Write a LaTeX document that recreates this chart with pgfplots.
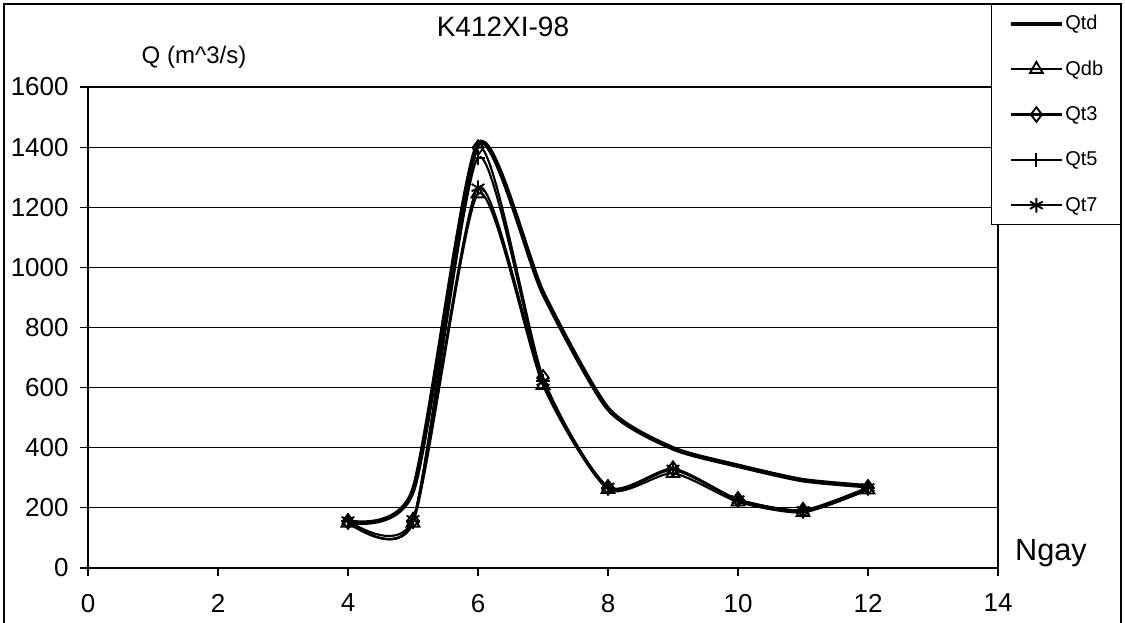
\documentclass[border=0pt]{standalone}
\usepackage{pgfplots}
\pgfplotsset{compat=1.18}
\usepackage{fontspec}
\setmainfont{Liberation Sans}
\begin{document}
\begin{tikzpicture}
\begin{axis}[
  at={(0,0)}, anchor=south west,
  scale only axis, width=682.5pt, height=360.75pt,
  xmin=0, xmax=14, ymin=0, ymax=1600,
  xtick={0,2,...,14}, ytick={0,200,...,1600},
  ymajorgrids, grid style={black, line width=0.8pt},
  axis line style={line width=2.2pt},
  tick align=outside, major tick length=6pt, tick style={black, line width=0.8pt},
  xtick pos=bottom, ytick pos=left,
  ticklabel style={font=\fontsize{19.5}{22}\selectfont},
  xticklabel style={yshift=-10pt},
  yticklabel style={xshift=-5pt},
  /pgf/number format/assume math mode=true,
  /pgf/number format/1000 sep={},
  clip=false,
  legend style={at={(rel axis cs:1.13516,1.17256)}, anchor=north east, draw=black, line width=0.8pt,
    font=\fontsize{15}{17}\selectfont, row sep=19pt, column sep=1pt, inner xsep=13pt, inner ysep=7pt,
    nodes={inner sep=0pt, anchor=west, text height=12pt, text depth=3pt}},
  legend cell align=left,
  legend image code/.code={\draw[mark repeat=2,mark phase=2,#1] plot coordinates {(0pt,0pt)(19pt,0pt)(38pt,0pt)};},
]
\addplot[black, line width=3.4pt, smooth, tension=0.4, no marks] coordinates {
(4,155) (5,258) (6,1410) (7,915) (8,530) (9,398) (10,340) (11,292) (12,272)};
\addlegendentry{Qtd}
\addplot[black, line width=1.6pt, smooth, tension=0.4, mark=triangle, mark size=5.5pt, mark options={solid, fill=white, line width=1.4pt}] coordinates {
(4,150) (5,150) (6,1245) (7,608) (8,262) (9,315) (10,220) (11,185) (12,260)};
\addlegendentry{Qdb}
\addplot[black, line width=1.6pt, smooth, tension=0.4, mark=diamond, mark size=5.5pt, mark options={solid, fill=white, line width=1.4pt}] coordinates {
(4,155) (5,158) (6,1398) (7,634) (8,268) (9,330) (10,228) (11,192) (12,268)};
\addlegendentry{Qt3}
\addplot[black, line width=1.6pt, smooth, tension=0.4, mark=+, mark size=5.5pt, mark options={solid, line width=1.4pt}] coordinates {
(4,155) (5,155) (6,1365) (7,622) (8,266) (9,326) (10,226) (11,190) (12,266)};
\addlegendentry{Qt5}
\addplot[black, line width=1.6pt, smooth, tension=0.4, mark=asterisk, mark size=5.5pt, mark options={solid, line width=1.4pt}] coordinates {
(4,158) (5,162) (6,1265) (7,620) (8,270) (9,330) (10,228) (11,192) (12,268)};
\addlegendentry{Qt7}
\node[font=\fontsize{21}{24}\selectfont] at (rel axis cs:0.456,1.1247) {K412XI-98};
\node[font=\fontsize{18}{20}\selectfont] at (rel axis cs:0.1165,1.0624) {Q (m\textasciicircum3/s)};
\node[font=\fontsize{23}{26}\selectfont, anchor=base] at (rel axis cs:1.0582,0.0146) {Ngay};
\end{axis}
\draw[line width=0.8pt] (-63pt,-41pt) -- (-63pt,423pt) -- (774.75pt,423pt) -- (774.75pt,-41pt);
\pgfresetboundingbox
\path[use as bounding box] (-66pt,-40.5pt) rectangle (777.75pt,426pt);
\end{tikzpicture}
\end{document}
